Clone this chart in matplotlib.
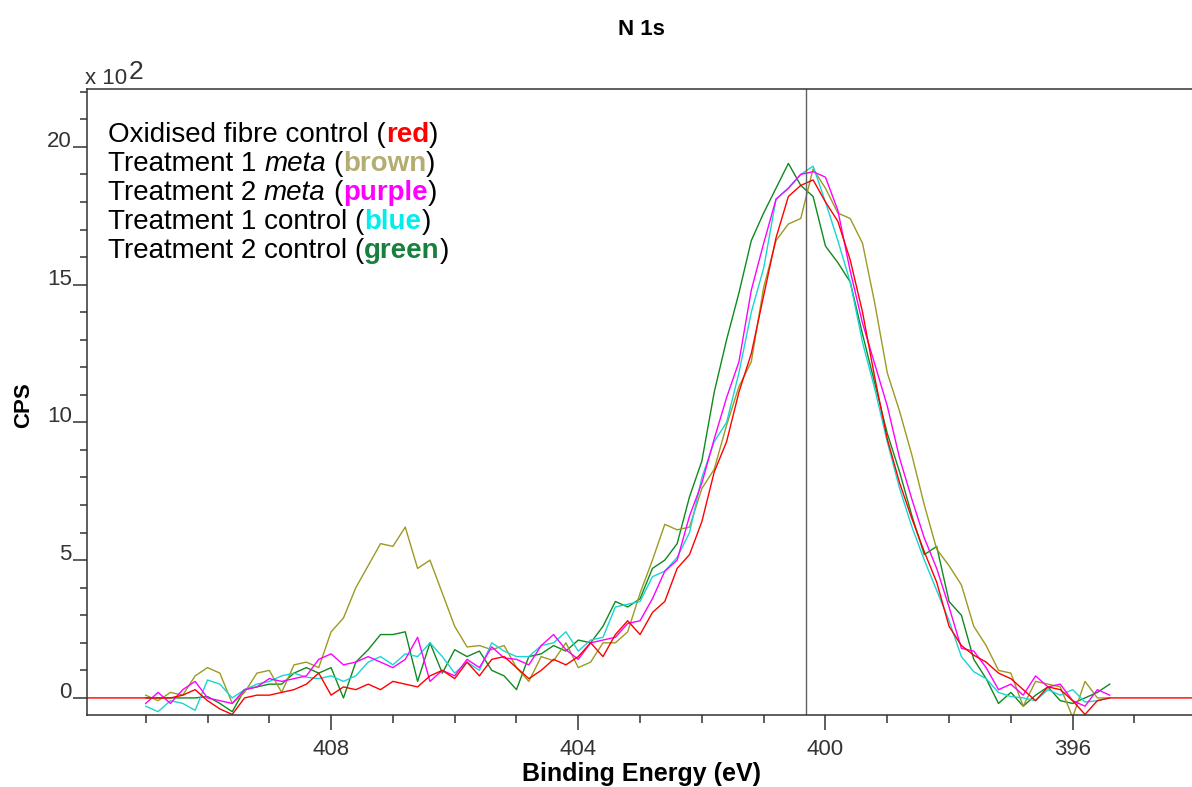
import matplotlib
matplotlib.use('Agg')
import matplotlib.pyplot as plt
from matplotlib.ticker import MultipleLocator
import numpy as np

plt.rcParams['font.family'] = 'sans-serif'
plt.rcParams['font.sans-serif'] = ['Liberation Sans', 'DejaVu Sans']

# binding energy grid (eV), common to all five spectra
energy = np.linspace(411.0, 395.4, 79)

# CPS in units of 10^2
red = [0.0, 0.0, 0.0, 0.1, 0.3, -0.1, -0.4, -0.6, 0.0, 0.1,
       0.1, 0.2, 0.3, 0.5, 0.9, 0.1, 0.4, 0.3, 0.5, 0.3,
       0.6, 0.5, 0.4, 0.8, 1.0, 0.7, 1.3, 0.8, 1.4, 1.5,
       1.1, 0.7, 1.0, 1.4, 1.2, 1.5, 2.0, 1.5, 2.3, 2.8,
       2.3, 3.1, 3.5, 4.7, 5.2, 6.4, 8.2, 9.3, 11.1, 12.5,
       14.6, 16.7, 18.2, 18.6, 18.8, 18.0, 17.3, 15.9, 14.0, 11.6,
       9.4, 7.8, 6.5, 5.3, 4.2, 2.6, 1.9, 1.55, 1.3, 0.9,
       0.7, 0.3, -0.1, 0.4, 0.3, -0.1, -0.6, -0.1, 0.0]
brown = [0.1, -0.1, 0.2, 0.1, 0.8, 1.1, 0.9, -0.2, 0.2, 0.9,
         1.0, 0.2, 1.2, 1.3, 1.1, 2.4, 2.9, 4.0, 4.8, 5.6,
         5.5, 6.2, 4.7, 5.0, 3.8, 2.6, 1.85, 1.9, 1.75, 1.9,
         1.1, 0.6, 1.5, 1.35, 2.0, 1.1, 1.3, 2.0, 2.0, 2.4,
         3.8, 5.0, 6.3, 6.1, 6.2, 7.6, 8.3, 9.9, 11.3, 12.2,
         14.9, 16.6, 17.2, 17.4, 19.2, 18.5, 17.6, 17.4, 16.5, 14.3,
         11.8, 10.4, 8.8, 7.0, 5.4, 4.8, 4.1, 2.6, 1.9, 1.0,
         0.9, -0.3, 0.6, 0.5, 0.4, -0.7, 0.6, 0.0, 0.0]
purple = [-0.2, 0.2, -0.2, 0.3, 0.6, 0.0, -0.1, -0.2, 0.3, 0.4,
          0.7, 0.6, 0.7, 0.8, 1.4, 1.6, 1.2, 1.3, 1.5, 1.3,
          1.1, 1.4, 2.2, 0.6, 1.0, 0.8, 1.4, 1.1, 1.85, 1.45,
          1.4, 1.2, 1.9, 2.3, 1.75, 1.4, 2.0, 2.1, 2.2, 2.7,
          2.8, 3.6, 4.6, 5.0, 6.6, 7.8, 9.4, 10.9, 12.2, 14.8,
          16.5, 18.1, 18.5, 19.0, 19.1, 18.9, 17.7, 15.5, 13.6, 12.1,
          10.6, 8.7, 7.2, 5.8, 4.7, 3.3, 1.8, 1.7, 1.1, 0.3,
          0.5, 0.1, 0.8, 0.4, 0.5, -0.1, -0.3, 0.3, 0.1]
blue = [-0.3, -0.5, -0.1, -0.2, -0.45, 0.65, 0.5, 0.0, 0.3, 0.5,
        0.6, 0.8, 0.9, 0.75, 0.7, 0.8, 0.6, 0.8, 1.3, 1.5,
        1.2, 1.6, 1.5, 2.0, 1.5, 0.9, 1.3, 1.0, 2.0, 1.7,
        1.5, 1.5, 1.9, 2.0, 2.4, 1.7, 2.1, 2.2, 3.3, 3.4,
        3.5, 4.4, 4.6, 5.1, 6.0, 8.0, 9.3, 10.0, 11.8, 14.0,
        15.6, 18.1, 18.5, 19.0, 19.3, 18.0, 16.6, 15.1, 12.9, 11.2,
        9.3, 7.6, 6.2, 5.0, 3.9, 2.8, 1.5, 0.95, 0.7, 0.2,
        0.05, 0.0, -0.1, 0.3, 0.1, 0.3, -0.15, -0.1, 0.0]
green = [0.0, 0.0, 0.0, 0.0, 0.0, 0.05, -0.2, -0.5, 0.3, 0.4,
         0.5, 0.5, 0.9, 1.1, 0.9, 1.1, 0.0, 1.3, 1.75, 2.3,
         2.3, 2.4, 0.6, 2.0, 0.9, 1.75, 1.5, 1.7, 1.0, 0.8,
         0.3, 1.5, 1.6, 1.9, 1.7, 2.1, 2.0, 2.6, 3.5, 3.3,
         3.6, 4.7, 5.0, 5.6, 7.3, 8.6, 11.1, 13.0, 14.7, 16.6,
         17.6, 18.5, 19.4, 18.6, 18.2, 16.4, 15.8, 15.1, 13.2, 11.4,
         9.6, 8.2, 6.6, 5.2, 5.5, 3.5, 3.0, 1.4, 0.7, -0.2,
         0.2, -0.3, 0.1, 0.4, -0.1, -0.2, 0.0, 0.2, 0.5]

x_lim = (411.95, 394.02)
marker_ev = 400.32

series = [
    ('Treatment 2 control', green, '#0f8a1e'),
    ('Treatment 1 meta', brown, '#9c9a22'),
    ('Treatment 1 control', blue, '#1ad4d4'),
    ('Treatment 2 meta', purple, '#ff00ff'),
]

fig = plt.figure(figsize=(11.92, 7.87), dpi=100)
ax = fig.add_axes([87 / 1192, 1 - 715 / 787, 1108 / 1192, 626 / 787])

for name, vals, color in series:
    ax.plot(energy, vals, color=color, lw=1.0)
# red trace is padded with zeros out to the axis ends
red_x = np.concatenate([[x_lim[0]], energy, [x_lim[1]]])
red_y = np.concatenate([[0.0], red, [0.0]])
ax.plot(red_x, red_y, color='#ff0000', lw=1.0)

ax.axvline(marker_ev, color='#606060', lw=1.0)

ax.set_xlim(*x_lim)
ax.set_ylim(-0.62, 22.1)
ax.xaxis.set_major_locator(MultipleLocator(4))
ax.xaxis.set_minor_locator(MultipleLocator(1))
ax.yaxis.set_minor_locator(MultipleLocator(1))
ax.set_yticks([0, 5, 10, 15, 20])
ax.set_yticklabels(['0', '5', '10', '15', '20'])

for s in ['left', 'bottom', 'top']:
    ax.spines[s].set_color('#333333')
    ax.spines[s].set_linewidth(1.1)
ax.spines['right'].set_visible(False)

ax.tick_params(axis='x', which='major', length=11, width=1.1, color='#333333',
               labelsize=16, labelcolor='#333333', pad=6)
ax.tick_params(axis='x', which='minor', length=6, width=1.1, color='#333333')
ax.tick_params(axis='y', which='major', length=10, width=1.1, color='#333333',
               labelsize=16, labelcolor='#333333', pad=1)
ax.tick_params(axis='y', which='minor', length=5, width=1.1, color='#333333')
for lab in ax.get_yticklabels():
    lab.set_verticalalignment('baseline')

ax.set_xlabel('Binding Energy (eV)', fontsize=18, fontweight='bold')
ax.xaxis.set_label_coords(0.5, (715 - 762) / 626)
ax.set_ylabel('CPS', fontsize=16, fontweight='bold')
ax.yaxis.set_label_coords(-53 / 1108, (715 - 405) / 626)
ax.set_title('N 1s', fontsize=16, fontweight='bold', pad=39)

# "x 10^2" multiplier
fig.text(85 / 1192, 1 - 89 / 787, 'x 10', fontsize=16, color='#333333', va='bottom')
fig.text(129 / 1192, 1 - 84 / 787, '2', fontsize=19, color='#333333', va='bottom')

# legend-like text block with coloured words
legend_lines = [
    [('Oxidised fibre control (', 'normal', 'normal', 'black', 0),
     ('red', 'bold', 'normal', '#ff0000', 0),
     (')', 'normal', 'normal', 'black', 0)],
    [('Treatment 1', 'normal', 'normal', 'black', 0),
     ('meta', 'normal', 'italic', 'black', 5.6),
     ('(', 'normal', 'normal', 'black', 5.6),
     ('brown', 'bold', 'normal', '#b4ad72', 0),
     (')', 'normal', 'normal', 'black', 0)],
    [('Treatment 2', 'normal', 'normal', 'black', 0),
     ('meta', 'normal', 'italic', 'black', 5.6),
     ('(', 'normal', 'normal', 'black', 5.6),
     ('purple', 'bold', 'normal', '#ff00ff', 0),
     (')', 'normal', 'normal', 'black', 0)],
    [('Treatment 1 control (', 'normal', 'normal', 'black', 0),
     ('blue', 'bold', 'normal', '#00eeee', 0),
     (')', 'normal', 'normal', 'black', 0)],
    [('Treatment 2 control (', 'normal', 'normal', 'black', 0),
     ('green', 'bold', 'normal', '#17803d', 0),
     (')', 'normal', 'normal', 'black', 0)],
]
y0 = (715 - 148) / 626
dy = 29 / 626
for i, pieces in enumerate(legend_lines):
    text, weight, style, color, gap = pieces[0]
    prev = ax.text(21 / 1108, y0 - i * dy, text, transform=ax.transAxes, fontsize=20,
                   fontweight=weight, fontstyle=style, color=color, va='bottom')
    for text, weight, style, color, gap in pieces[1:]:
        prev = ax.annotate(text, xy=(1, 0), xycoords=prev, xytext=(gap, 0),
                           textcoords='offset points', fontsize=20, fontweight=weight,
                           fontstyle=style, color=color, va='bottom')

fig.savefig('out.png', dpi=100)
